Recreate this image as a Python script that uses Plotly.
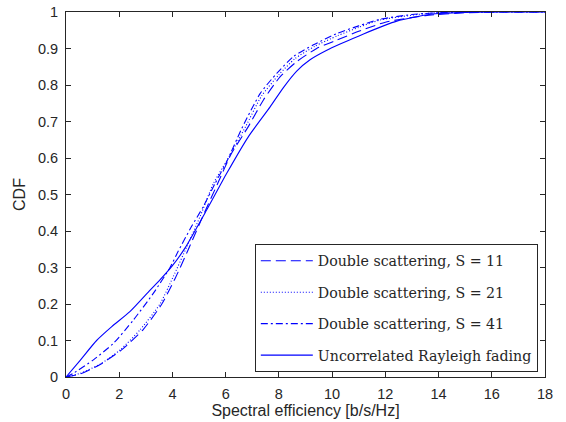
import plotly.graph_objects as go

# Spectral efficiency [b/s/Hz] and CDF values
x_rayleigh = [0, 0.5, 1.15, 1.72, 2.4, 3.16, 3.53, 4.0, 4.47, 5.29, 6.04, 6.85, 7.67, 8.17, 8.67, 9.17, 9.8, 10.3, 11.18, 12.43, 13.7, 15.0, 16.5, 18]
cdf_rayleigh = [0, 0.043, 0.1, 0.138, 0.179, 0.238, 0.266, 0.305, 0.353, 0.458, 0.558, 0.658, 0.74, 0.793, 0.838, 0.869, 0.895, 0.912, 0.94, 0.975, 0.994, 0.999, 1.0, 1.0]

x_s11 = [0, 0.6, 1.3, 2.1, 2.9, 3.6, 4.1, 4.6, 5.2, 5.7, 6.2, 6.85, 7.42, 8.05, 8.67, 9.42, 10.18, 11.0, 12.0, 13.5, 15.0, 16.5, 18]
cdf_s11 = [0, 0.01, 0.035, 0.075, 0.13, 0.2, 0.27, 0.35, 0.45, 0.53, 0.61, 0.686, 0.759, 0.823, 0.864, 0.9, 0.923, 0.947, 0.972, 0.99, 0.998, 1.0, 1.0]

x_s21 = [0, 0.53, 1.3, 2.03, 2.78, 3.53, 4.03, 4.54, 5.04, 5.54, 6.1, 6.75, 7.35, 8.0, 8.6, 9.35, 10.2, 11.0, 11.8, 13.7, 15.5, 18]
cdf_s21 = [0, 0.01, 0.036, 0.074, 0.129, 0.2, 0.275, 0.357, 0.44, 0.53, 0.6, 0.686, 0.77, 0.828, 0.872, 0.906, 0.935, 0.958, 0.978, 0.997, 1.0, 1.0]

x_s41 = [0, 0.27, 1.03, 1.78, 2.53, 3.28, 3.91, 4.22, 4.7, 5.16, 5.6, 6.04, 6.6, 7.3, 7.92, 8.55, 9.3, 10.18, 11.0, 11.8, 13.0, 14.0, 16.0, 18]
cdf_s41 = [0, 0.01, 0.047, 0.092, 0.156, 0.229, 0.3, 0.345, 0.41, 0.467, 0.53, 0.59, 0.68, 0.777, 0.832, 0.878, 0.91, 0.941, 0.962, 0.98, 0.993, 0.998, 1.0, 1.0]

names = ["Double scattering, S = 11", "Double scattering, S = 21",
         "Double scattering, S = 41", "Uncorrelated Rayleigh fading"]
x_ticks = [0, 2, 4, 6, 8, 10, 12, 14, 16, 18]
y_ticks = [0, 0.1, 0.2, 0.3, 0.4, 0.5, 0.6, 0.7, 0.8, 0.9, 1]
y_tick_text = ["0", "0.1", "0.2", "0.3", "0.4", "0.5", "0.6", "0.7", "0.8", "0.9", "1"]

series = [
    (x_s11, cdf_s11, names[0], "10px,5px"),
    (x_s21, cdf_s21, names[1], "1px,2px"),
    (x_s41, cdf_s41, names[2], "7px,3px,2px,3px"),
    (x_rayleigh, cdf_rayleigh, names[3], "solid"),
]

fig = go.Figure()
for i, (xs, ys, nm, dash) in enumerate(series):
    fig.add_trace(go.Scatter(
        x=xs, y=ys, name=nm, mode="lines", legendgroup=f"g{i}",
        line=dict(color="rgb(0,0,255)", width=1.1, dash=dash, shape="spline", smoothing=0.6),
    ))

sans = "Liberation Sans, Arial, sans-serif"
axis_common = dict(
    showgrid=False, zeroline=False, showline=True, linecolor="#262626", linewidth=1,
    mirror="ticks", ticks="inside", ticklen=5, tickcolor="#262626", automargin=False,
    ticklabelstandoff=4,
    tickfont=dict(family=sans, size=14.5, color="#262626"),
)

fig.update_layout(
    width=566, height=422,
    margin=dict(l=66, r=21, t=12, b=45),
    paper_bgcolor="white", plot_bgcolor="white",
    xaxis=dict(range=[0, 18], tickvals=x_ticks,
               title=dict(text="Spectral efficiency [b/s/Hz]", standoff=2,
                          font=dict(family=sans, size=16, color="#262626")),
               **axis_common),
    yaxis=dict(range=[0, 1], tickvals=y_ticks, ticktext=y_tick_text,
               title=dict(text="CDF", standoff=8,
                          font=dict(family=sans, size=16, color="#262626")),
               **axis_common),
    legend=dict(x=0.985, y=0.0137, xanchor="right", yanchor="bottom",
                bgcolor="white", bordercolor="#262626", borderwidth=1,
                font=dict(family="DejaVu Serif, serif", size=14.2, color="#262626"),
                tracegroupgap=10, traceorder="grouped", itemwidth=52),
    showlegend=True,
)

fig.write_html("out.html", config={"displayModeBar": False},
               post_script="document.body.style.margin='0';")
